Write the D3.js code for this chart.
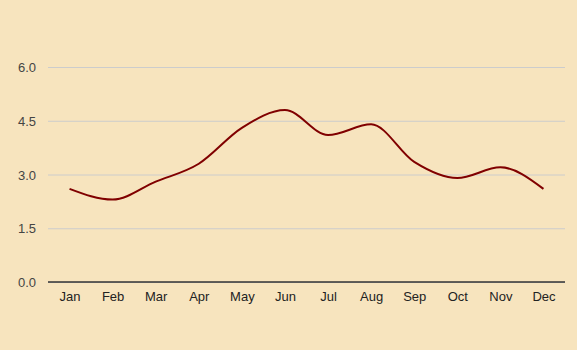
<!DOCTYPE html>
<html>
<head>
<meta charset="utf-8">
<script src="https://cdn.jsdelivr.net/npm/d3@7"></script>
<style>
  body { margin: 0; background: #f7e4be; }
  svg { display: block; }
</style>
</head>
<body>
<svg class="chart"></svg>
<script>
const months = ['Jan', 'Feb', 'Mar', 'Apr', 'May', 'Jun', 'Jul', 'Aug', 'Sep', 'Oct', 'Nov', 'Dec'];
const values = [2.6, 2.3, 2.8, 3.3, 4.3, 4.8, 4.1, 4.4, 3.35, 2.9, 3.2, 2.6];
const yTicks = [0, 1.5, 3, 4.5, 6];

const width = 577, height = 350,
    margins = {top: 67, right: 12, bottom: 68, left: 48};
const w = width - margins.left - margins.right,
    h = height - margins.top - margins.bottom;

const svg = d3.select('.chart')
    .attr('width', width)
    .attr('height', height)
    .style('font-family', 'Liberation Sans, Arial, sans-serif');

svg.append('rect').attr('width', width).attr('height', height).attr('fill', '#f7e4be');

const chart = svg.append('g')
    .attr('transform', 'translate(' + margins.left + ',' + margins.top + ')');

const xScale = d3.scalePoint()
    .domain(months)
    .range([0, w])
    .padding(0.5);

const yScale = d3.scaleLinear()
    .domain([0, 6])
    .range([h, 0]);

// grid + y labels
const yAxis = chart.append('g')
    .call(d3.axisLeft(yScale).tickValues(yTicks).tickSize(-w).tickFormat(d3.format('.1f')));
yAxis.select('.domain').remove();
yAxis.selectAll('line').attr('stroke', '#cccccc');
yAxis.selectAll('text')
    .attr('x', -12)
    .attr('dy', '0.35em')
    .style('font-size', '13px')
    .attr('fill', '#444');

// baseline + x labels
const xAxis = chart.append('g')
    .attr('transform', 'translate(0,' + h + ')')
    .call(d3.axisBottom(xScale).tickSize(0).tickPadding(10));
xAxis.select('.domain').attr('stroke', '#333').attr('stroke-width', 1.5)
    .attr('d', 'M0,0H' + w);
xAxis.selectAll('text')
    .style('font-size', '13px')
    .attr('fill', '#222');

const line = d3.line()
    .x((d, i) => xScale(months[i]))
    .y(d => yScale(d))
    .curve(d3.curveMonotoneX);

chart.append('path')
    .datum(values)
    .attr('fill', 'none')
    .attr('stroke', '#800000')
    .attr('stroke-width', 2)
    .attr('d', line);
</script>
</body>
</html>
